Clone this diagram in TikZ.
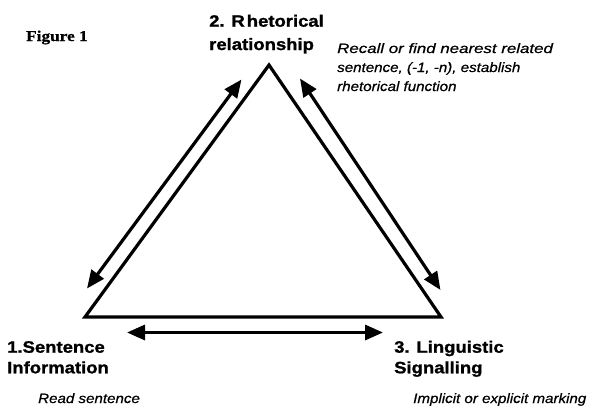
\documentclass[tikz,border=0pt]{standalone}
\usepackage{fontspec}
\usetikzlibrary{arrows.meta}
\newfontfamily\lblfont[FakeStretch=1.12,FakeBold=1.2]{Liberation Sans}
\newfontfamily\notefont[FakeStretch=1.12,FakeBold=0.6]{Liberation Sans}
\newfontfamily\notewidefont[FakeStretch=1.25,FakeBold=0.6]{Liberation Sans}
\newfontfamily\figfont[FakeStretch=1.15,FakeBold=1]{Liberation Serif}
\tikzset{
  lbl/.style={anchor=base west, inner sep=0pt, font=\lblfont\bfseries\fontsize{16.5}{20}\selectfont},
  note/.style={anchor=base west, inner sep=0pt, font=\notefont\itshape\fontsize{13.5}{16}\selectfont},
  notewide/.style={anchor=base west, inner sep=0pt, font=\notewidefont\itshape\fontsize{13.5}{16}\selectfont},
  figlbl/.style={anchor=base west, inner sep=0pt, font=\figfont\bfseries\fontsize{15}{18}\selectfont},
  tri/.style={line width=3.2pt, line join=miter},
  dblarrow/.style={line width=3.2pt, {Triangle[length=18pt,width=15pt]}-{Triangle[length=18pt,width=15pt]}}
}
\begin{document}
\begin{tikzpicture}[x=1pt,y=-1pt]
\useasboundingbox (0,0) rectangle (604,408);
% triangle corners
\coordinate (apex) at (269,65);
\coordinate (bl) at (85,317);
\coordinate (br) at (441,317);
\draw[tri] (apex) -- (bl) -- (br) -- cycle;
% arrow end points
\coordinate (la1) at (87,288.5);
\coordinate (la2) at (241.5,79.5);
\coordinate (ra1) at (300,78.5);
\coordinate (ra2) at (440.5,290);
\coordinate (ba1) at (127,332.5);
\coordinate (ba2) at (383,332.5);
\draw[dblarrow] (la1) -- (la2);
\draw[dblarrow] (ra1) -- (ra2);
\draw[dblarrow] (ba1) -- (ba2);
% labels
\node[figlbl] (fig) at (26,41) {Figure 1};
\node[lbl] (t2a) at (209,26.7) {2. R\kern2pt hetorical};
\node[lbl] (t2b) at (209,50) {relationship};
\node[lbl] (t1a) at (7,352.7) {1.Sentence};
\node[lbl] (t1b) at (7,373.3) {Information};
\node[lbl] (t3a) at (394,352.7) {3. Linguistic};
\node[lbl] (t3b) at (394,373.3) {Signalling};
% notes
\node[notewide] (n2a) at (337,53) {Recall or find nearest related};
\node[note] (n2b) at (337,72) {sentence, (-1, -n), establish};
\node[note] (n2c) at (337,91) {rhetorical function};
\node[note] (n1) at (38,403) {Read sentence};
\node[note] (n3) at (413,403) {Implicit or explicit marking};
\end{tikzpicture}
\end{document}
